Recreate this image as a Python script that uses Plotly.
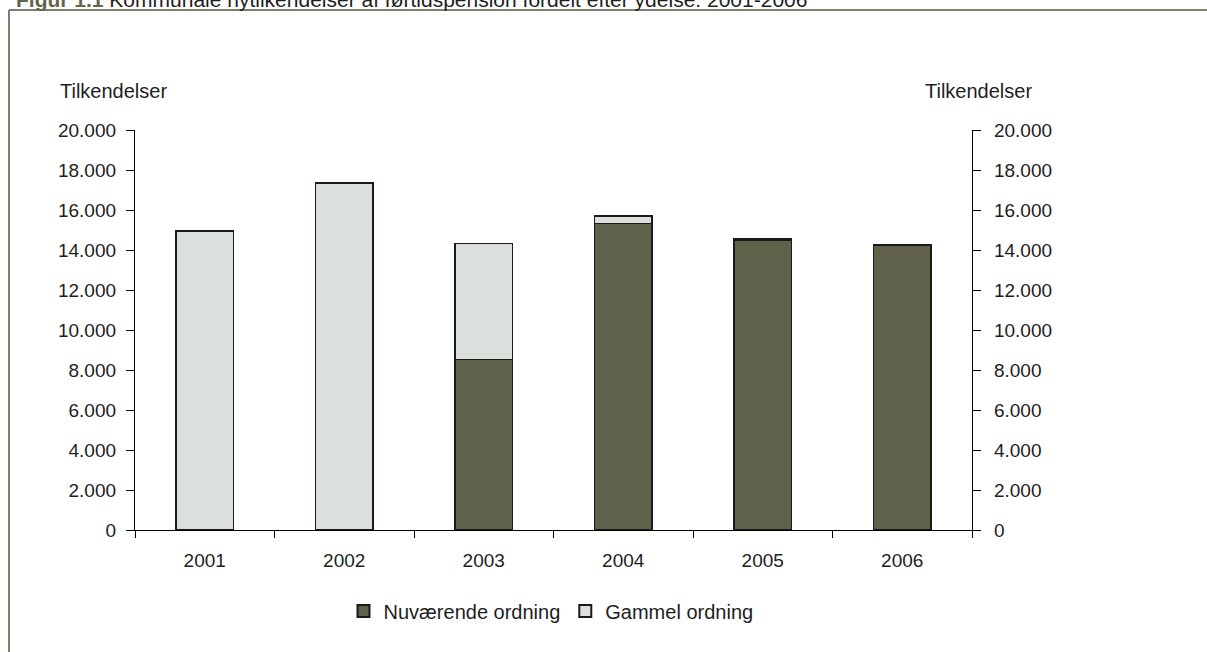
import plotly.graph_objects as go

years = ["2001", "2002", "2003", "2004", "2005", "2006"]
nuvaerende = [None, None, 8525, 15320, 14510, 14260]
gammel = [14950, 17340, 5800, 390, 50, None]
totals = [(a or 0) + (b or 0) for a, b in zip(nuvaerende, gammel)]

W, H = 1207, 652
L, R, T, B = 135, 972, 130, 530  # plot area pixels


def px(x):
    return (x - L) / (R - L)


def py(y):
    return (B - y) / (B - T)


FONT = "Liberation Sans, Arial, sans-serif"
TXT = "#1e1e1e"

fig = go.Figure()
fig.add_trace(go.Bar(
    x=years, y=nuvaerende, name="Nuværende ordning",
    marker=dict(color="#5f614a", line=dict(color="#1a1a1a", width=1.5)),
))
fig.add_trace(go.Bar(
    x=years, y=gammel, name="Gammel ordning",
    marker=dict(color="#dbe0dc", line=dict(color="#1a1a1a", width=1.5)),
))
fig.add_trace(go.Scatter(
    x=years, y=totals, yaxis="y2", mode="markers",
    marker=dict(opacity=0), showlegend=False, hoverinfo="skip",
))

axis_common = dict(
    range=[0, 20000], dtick=2000, tickformat=",d",
    showline=True, linecolor="black", linewidth=1.3,
    ticks="outside", ticklen=8, tickcolor="black", tickwidth=1.3,
    showgrid=False, zeroline=False,
    tickfont=dict(family=FONT, size=19, color=TXT),
)

fig.update_layout(
    width=W, height=H,
    margin=dict(l=L, r=W - R, t=T, b=H - B, pad=0),
    paper_bgcolor="white", plot_bgcolor="white",
    separators=",.",
    barmode="stack", bargap=0.59,
    font=dict(family=FONT, size=19, color=TXT),
    xaxis=dict(
        showline=True, linecolor="black", linewidth=1.3,
        ticks="outside", ticklen=7, tickcolor="black", tickwidth=1.3,
        tickson="boundaries", showgrid=False,
        tickfont=dict(family=FONT, size=19, color=TXT),
        ticklabelstandoff=13,
    ),
    yaxis=dict(**axis_common, side="left", ticklabelstandoff=6),
    yaxis2=dict(**axis_common, side="right", overlaying="y", ticklabelstandoff=9),
    legend=dict(
        orientation="h", x=px(551), xanchor="center",
        y=py(611), yanchor="middle", traceorder="normal",
        font=dict(family=FONT, size=20, color=TXT),
        itemwidth=30, itemsizing="constant",
    ),
    showlegend=True,
)

# Axis titles
fig.add_annotation(text="Tilkendelser", xref="paper", yref="paper",
                   x=px(113), y=py(91), xanchor="center", yanchor="middle",
                   showarrow=False, font=dict(family=FONT, size=20, color=TXT))
fig.add_annotation(text="Tilkendelser", xref="paper", yref="paper",
                   x=px(979), y=py(91), xanchor="center", yanchor="middle",
                   showarrow=False, font=dict(family=FONT, size=20, color=TXT))

# Clipped figure title at the very top
fig.add_annotation(
    text="<b><span style='color:#62654c'>Figur 1.1</span></b> Kommunale nytilkendelser af førtidspension fordelt efter ydelse. 2001-2006",
    xref="paper", yref="paper", x=px(14), y=py(13), xanchor="left", yanchor="bottom",
    showarrow=False, font=dict(family="Liberation Sans Narrow, Liberation Sans, sans-serif", size=21, color=TXT),
)

# Frame (top and left border lines)
frame_color = "#7d7f6e"
fig.add_shape(type="line", xref="paper", yref="paper",
              x0=px(9), y0=py(10), x1=px(1210), y1=py(10),
              line=dict(color=frame_color, width=2))
fig.add_shape(type="line", xref="paper", yref="paper",
              x0=px(9), y0=py(10), x1=px(9), y1=py(660),
              line=dict(color=frame_color, width=2))

fig.write_html(
    "out.html",
    config={"displayModeBar": False},
    post_script="document.body.style.margin='0';document.body.style.overflow='hidden';",
)
